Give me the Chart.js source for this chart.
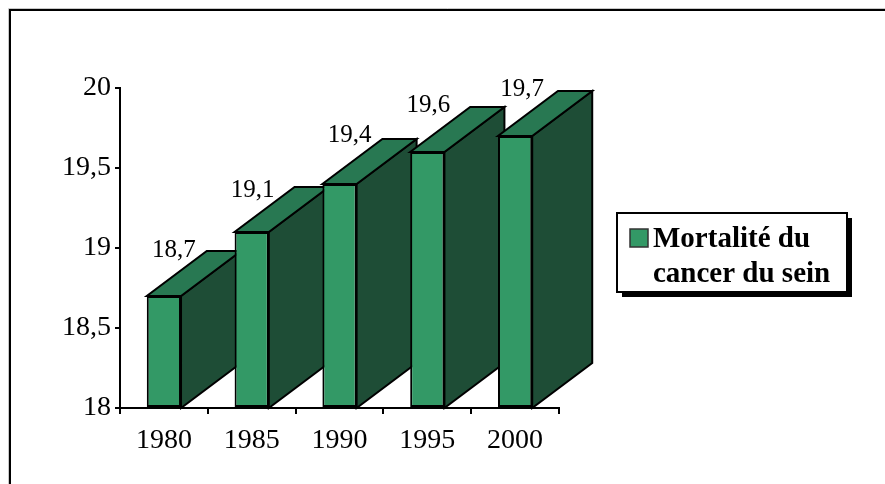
<!DOCTYPE html>
<html>
<head>
<meta charset="utf-8">
<script src="https://cdn.jsdelivr.net/npm/chart.js@4/dist/chart.umd.min.js"></script>
<style>
  html, body { margin: 0; padding: 0; background: #fff; }
  #wrap { width: 885px; height: 484px; }
</style>
</head>
<body>
<div id="wrap"><canvas id="c" width="885" height="484"></canvas></div>
<script>
// Breast-cancer mortality by year
const years = ['1980', '1985', '1990', '1995', '2000'];
const mortality = [18.7, 19.1, 19.4, 19.6, 19.7];
const yTicks = [18, 18.5, 19, 19.5, 20];
const seriesName = ['Mortalité du', 'cancer du sein'];

// small per-label offsets for the value captions [dx, dy]
const captionNudge = [[10, 0], [1, 4], [10, -3], [1, -1], [7, -1]];

const SERIF = '"Liberation Serif", "Times New Roman", serif';
const FRONT = '#339966';
const TOP = '#287852';
const SIDE = '#1e4d36';
const DEPTH_X = 60, DEPTH_Y = 45;

const comma = v => String(v).replace('.', ',');

// white page with the outer frame (top and left edges)
const framePlugin = {
  id: 'frame',
  beforeDraw(chart) {
    const ctx = chart.ctx;
    ctx.save();
    ctx.fillStyle = '#fff';
    ctx.fillRect(0, 0, chart.width, chart.height);
    ctx.strokeStyle = '#c8c8c8';
    ctx.lineWidth = 1;
    ctx.beginPath();
    ctx.moveTo(8.5, chart.height + 5);
    ctx.lineTo(8.5, 8.5);
    ctx.lineTo(chart.width + 5, 8.5);
    ctx.stroke();
    ctx.strokeStyle = '#000';
    ctx.lineWidth = 2;
    ctx.beginPath();
    ctx.moveTo(10, chart.height + 5);
    ctx.lineTo(10, 10);
    ctx.lineTo(chart.width + 5, 10);
    ctx.stroke();
    ctx.restore();
  }
};

// top and side faces of each bar, drawn before the front faces
const depthPlugin = {
  id: 'depth',
  beforeDatasetsDraw(chart) {
    const ctx = chart.ctx;
    const meta = chart.getDatasetMeta(0);
    const floor = chart.scales.y.getPixelForValue(yTicks[0]);
    ctx.save();
    ctx.lineWidth = 2;
    ctx.lineJoin = 'miter';
    ctx.strokeStyle = '#000';
    meta.data.forEach(bar => {
      const { x, y, width } = bar.getProps(['x', 'y', 'width'], true);
      const l = x - width / 2, r = x + width / 2;
      // side face
      ctx.beginPath();
      ctx.moveTo(r, y);
      ctx.lineTo(r + DEPTH_X, y - DEPTH_Y);
      ctx.lineTo(r + DEPTH_X, floor - DEPTH_Y);
      ctx.lineTo(r, floor);
      ctx.closePath();
      ctx.fillStyle = SIDE;
      ctx.fill();
      ctx.stroke();
      // top face
      ctx.beginPath();
      ctx.moveTo(l, y);
      ctx.lineTo(r, y);
      ctx.lineTo(r + DEPTH_X, y - DEPTH_Y);
      ctx.lineTo(l + DEPTH_X, y - DEPTH_Y);
      ctx.closePath();
      ctx.fillStyle = TOP;
      ctx.fill();
      ctx.stroke();
    });
    ctx.restore();
  },
  afterDatasetsDraw(chart) {
    // value captions above the bars
    const ctx = chart.ctx;
    const meta = chart.getDatasetMeta(0);
    ctx.save();
    ctx.font = '25px ' + SERIF;
    ctx.fillStyle = '#000';
    ctx.textAlign = 'center';
    ctx.textBaseline = 'alphabetic';
    meta.data.forEach((bar, i) => {
      const { x, y } = bar.getProps(['x', 'y'], true);
      const [dx, dy] = captionNudge[i] || [0, 0];
      ctx.fillText(comma(mortality[i]), x + dx, y - 39 + dy);
    });
    ctx.restore();
  }
};

// boxed legend with drop shadow
const legendBoxPlugin = {
  id: 'legendBox',
  afterDraw(chart) {
    const ctx = chart.ctx;
    const bx = 617, by = 213, bw = 230, bh = 79;
    ctx.save();
    ctx.fillStyle = '#000';
    ctx.fillRect(bx + 5, by + 5, bw, bh);
    ctx.fillStyle = '#fff';
    ctx.fillRect(bx, by, bw, bh);
    ctx.strokeStyle = '#000';
    ctx.lineWidth = 2;
    ctx.strokeRect(bx, by, bw, bh);
    // swatch
    ctx.fillStyle = FRONT;
    ctx.fillRect(630, 229, 18, 18);
    ctx.strokeStyle = '#333';
    ctx.lineWidth = 1.5;
    ctx.strokeRect(630, 229, 18, 18);
    // label
    ctx.fillStyle = '#000';
    ctx.font = 'bold 29px ' + SERIF;
    ctx.textAlign = 'left';
    ctx.textBaseline = 'alphabetic';
    ctx.fillText(seriesName[0], 653, 247);
    ctx.fillText(seriesName[1], 653, 282);
    ctx.restore();
  }
};

new Chart(document.getElementById('c'), {
  type: 'bar',
  data: {
    labels: years,
    datasets: [{
      label: seriesName.join(' '),
      data: mortality,
      base: yTicks[0],
      backgroundColor: FRONT,
      borderColor: '#000',
      borderWidth: 2,
      borderSkipped: false,
      barPercentage: 0.39,
      categoryPercentage: 1.0,
      clip: false
    }]
  },
  options: {
    responsive: false,
    animation: false,
    devicePixelRatio: 1,
    layout: { padding: { left: 10, right: 326, top: 88, bottom: 36 } },
    plugins: {
      legend: { display: false },
      tooltip: { enabled: false }
    },
    scales: {
      x: {
        grid: { offset: true, drawOnChartArea: false, drawTicks: true, tickLength: 6, color: '#000', lineWidth: 2 },
        border: { display: true, color: '#000', width: 2 },
        ticks: { font: { family: SERIF, size: 28 }, color: '#000', padding: 10, maxRotation: 0, autoSkip: false },
        afterFit(s) { s.height = 40; }
      },
      y: {
        min: 18,
        max: 20,
        afterBuildTicks(s) { s.ticks = yTicks.map(v => ({ value: v })); },
        grid: { drawOnChartArea: false, drawTicks: true, tickLength: 5, color: '#000', lineWidth: 2 },
        border: { display: true, color: '#000', width: 2 },
        ticks: { font: { family: SERIF, size: 28 }, color: '#000', padding: 4, callback: v => comma(v) },
        afterFit(s) { s.width = 110; }
      }
    }
  },
  plugins: [framePlugin, depthPlugin, legendBoxPlugin]
});
</script>
</body>
</html>
